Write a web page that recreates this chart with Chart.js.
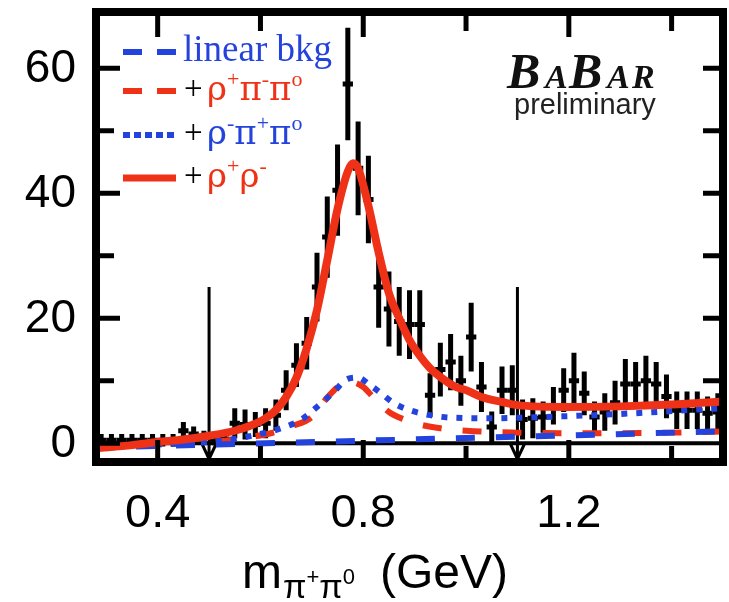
<!DOCTYPE html>
<html>
<head>
<meta charset="utf-8">
<script src="https://cdn.jsdelivr.net/npm/chart.js@4.4.1/dist/chart.umd.min.js"></script>
<style>
  html, body { margin: 0; padding: 0; background: #fff; }
</style>
</head>
<body>
<canvas id="massChart" width="729" height="602"></canvas>
<script>
/* ================================
   DATA
================================ */
const massBins = [
  0.29, 0.31, 0.33, 0.35, 0.37, 0.39, 0.41, 0.43, 0.45, 0.47, 0.49, 0.51, 0.53,
  0.55, 0.57, 0.59, 0.61, 0.63, 0.65, 0.67, 0.69, 0.71, 0.73, 0.75, 0.77, 0.79,
  0.81, 0.83, 0.85, 0.87, 0.89, 0.91, 0.93, 0.95, 0.97, 0.99, 1.01, 1.03, 1.05,
  1.07, 1.09, 1.11, 1.13, 1.15, 1.17, 1.19, 1.21, 1.23, 1.25, 1.27, 1.29, 1.31,
  1.33, 1.35, 1.37, 1.39, 1.41, 1.43, 1.45, 1.47, 1.49
];
const counts = [
  0.5, 0.5, 0.5, 0.5, 0.5, 0.5, 0.5, 0.5, 2, 1.5, 1, 0.7, 0.7,
  3.2, 3, 3, 3.2, 4.5, 8.5, 12.5, 16, 25, 33, 40.5, 57.5, 44,
  39, 25, 21.5, 19.5, 19, 19, 7.7, 11.8, 13, 10, 17, 9, 2.6,
  8.5, 8.5, 3.8, 4, 4.2, 6, 8.5, 10, 8, 4.2, 5, 6.5, 9.5,
  9.5, 10, 9.5, 7.5, 5.3, 5.3, 5.3, 4.8, 5
];
const errors = [
  1, 1, 1, 1, 1, 1, 1, 1, 1.4, 1.2, 1, 1, 1,
  2.4, 2.4, 2, 2.4, 2.5, 3.2, 3.5, 4.2, 5.5, 6.5, 7.3, 9, 7.5,
  7, 6.5, 6, 5.5, 5.5, 5.5, 3.5, 4.3, 4.5, 4, 5.5, 4, 2.5,
  3.8, 4, 3.2, 3.2, 2.5, 3, 3.5, 4.5, 3.5, 2.5, 3, 3.5, 4,
  3.5, 4, 3.5, 3.5, 3, 3, 3, 2.7, 3
];
const binHalf = 0.01;

// full fit: + rho+ rho-
const totalMass = [0.28, 0.35, 0.40, 0.45, 0.50, 0.55, 0.58, 0.61, 0.63, 0.65, 0.67, 0.69, 0.71, 0.73, 0.75, 0.77, 0.78, 0.79, 0.81, 0.83, 0.85, 0.87, 0.89, 0.91, 0.93, 0.95, 0.98, 1.00, 1.03, 1.07, 1.10, 1.20, 1.30, 1.40, 1.50];
const totalFit  = [-0.8, -0.3, 0.2, 0.6, 1.2, 2.0, 2.8, 4.0, 5.3, 7.4, 10.5, 15.2, 21.3, 29.3, 37.5, 43.5, 44.8, 44, 38, 30.5, 24, 20, 16.5, 14, 12, 10.6, 9, 8.5, 7.4, 6.6, 6.1, 5.8, 5.9, 6.2, 6.7];

// + rho- pi+ pi0
const rhoMinusMass = [0.28, 0.40, 0.50, 0.55, 0.60, 0.64, 0.68, 0.71, 0.74, 0.77, 0.79, 0.81, 0.83, 0.86, 0.89, 0.93, 0.97, 1.05, 1.15, 1.25, 1.35, 1.45, 1.50];
const rhoMinusFit  = [-0.6, -0.2, 0.2, 0.7, 1.5, 2.4, 3.8, 5.8, 8, 10.3, 10.5, 9.5, 8.3, 6.4, 5.3, 4.5, 4.1, 4.0, 4.2, 4.5, 4.9, 5.4, 5.6];

// + rho+ pi- pi0
const rhoPlusMass = [0.28, 0.45, 0.52, 0.58, 0.62, 0.66, 0.70, 0.73, 0.755, 0.775, 0.80, 0.82, 0.85, 0.88, 0.91, 0.95, 1.00, 1.10, 1.20, 1.30, 1.40, 1.50];
const rhoPlusFit  = [-0.6, -0.1, 0.3, 1.0, 1.6, 2.7, 4.2, 7.3, 9.3, 9.8, 9.0, 7.3, 5.0, 3.8, 3.0, 2.4, 2.0, 1.7, 1.6, 1.6, 1.7, 1.9];

// linear bkg
const bkgMass = [0.28, 1.50];
const bkgFit  = [-0.7, 1.9];

// selection cut arrows
const cutMass = [0.5, 1.1];
const cutTop = 25;

// axes
const xLabelTicks = [0.4, 0.8, 1.2];
const xMinorTicks = [0.6, 1.0, 1.4];
const yLabelTicks = [0, 20, 40, 60];
const yMinorTicks = [10, 30, 50];
const yRightTicks = [10, 20, 30, 40, 50, 60];

const RED = '#ef3217';
const BLUE = '#2443dc';

function pts(xs, ys) {
  return xs.map((x, i) => ({ x: x, y: ys[i] }));
}

/* ================================
   PLUGIN: error bars, zero line, arrows
================================ */
const underlay = {
  id: 'underlay',
  beforeDatasetsDraw(chart) {
    const { ctx, chartArea: a, scales: { x, y } } = chart;
    ctx.save();
    ctx.beginPath();
    ctx.rect(a.left, a.top, a.right - a.left, a.bottom - a.top);
    ctx.clip();
    ctx.strokeStyle = '#000';
    ctx.lineCap = 'butt';

    // zero line
    ctx.lineWidth = 4;
    const y0 = y.getPixelForValue(0);
    ctx.beginPath();
    ctx.moveTo(a.left, y0);
    ctx.lineTo(a.right, y0);
    ctx.stroke();

    // error bars
    ctx.lineWidth = 5;
    massBins.forEach((m, i) => {
      const px = x.getPixelForValue(m);
      const yc = y.getPixelForValue(counts[i]);
      ctx.beginPath();
      ctx.moveTo(px, y.getPixelForValue(counts[i] - errors[i]));
      ctx.lineTo(px, y.getPixelForValue(counts[i] + errors[i]));
      ctx.moveTo(x.getPixelForValue(m - binHalf), yc);
      ctx.lineTo(x.getPixelForValue(m + binHalf), yc);
      ctx.stroke();
    });

    // arrows
    ctx.lineWidth = 3;
    cutMass.forEach(m => {
      const px = x.getPixelForValue(m);
      const tip = a.bottom - 3;
      ctx.beginPath();
      ctx.moveTo(px, y.getPixelForValue(cutTop));
      ctx.lineTo(px, tip);
      ctx.moveTo(px - 7, tip - 15);
      ctx.lineTo(px, tip);
      ctx.lineTo(px + 7, tip - 15);
      ctx.stroke();
    });
    ctx.restore();
  }
};

/* ================================
   PLUGIN: frame, ticks, labels, legend, logo, title
================================ */
const SERIF = '"Liberation Serif", "Times New Roman", serif';
const GREEK = '"DejaVu Serif", "Liberation Serif", serif';
const SANS = '"Liberation Sans", Arial, sans-serif';

function runs(ctx, x, base, parts) {
  parts.forEach(p => {
    ctx.font = p.s + 'px ' + (p.g ? GREEK : SERIF);
    ctx.fillStyle = p.c;
    ctx.fillText(p.t, x, base - (p.up || 0));
    x += ctx.measureText(p.t).width + (p.gap || 0);
  });
  return x;
}

const overlay = {
  id: 'overlay',
  afterDraw(chart) {
    const { ctx, chartArea: a, scales: { x, y } } = chart;
    ctx.save();
    ctx.strokeStyle = '#000';

    // inner ticks
    ctx.lineWidth = 5;
    const tick = (x1, y1, x2, y2) => { ctx.beginPath(); ctx.moveTo(x1, y1); ctx.lineTo(x2, y2); ctx.stroke(); };
    xLabelTicks.forEach(v => { const p = x.getPixelForValue(v); tick(p, a.top, p, a.top + 25); tick(p, a.bottom, p, a.bottom - 22); });
    xMinorTicks.forEach(v => { const p = x.getPixelForValue(v); tick(p, a.top, p, a.top + 19); tick(p, a.bottom, p, a.bottom - 16); });
    yLabelTicks.forEach(v => { const p = y.getPixelForValue(v); tick(a.left, p, a.left + 24, p); });
    yMinorTicks.forEach(v => { const p = y.getPixelForValue(v); tick(a.left, p, a.left + 18, p); });
    yRightTicks.forEach(v => { const p = y.getPixelForValue(v); tick(a.right, p, a.right - 20, p); });

    // frame
    ctx.lineWidth = 8;
    ctx.strokeRect(a.left, a.top, a.right - a.left, a.bottom - a.top);

    // tick labels
    ctx.fillStyle = '#000';
    ctx.font = '46px ' + SANS;
    ctx.textBaseline = 'middle';
    ctx.textAlign = 'right';
    yLabelTicks.forEach(v => ctx.fillText(String(v), 76, y.getPixelForValue(v) + 1));
    ctx.font = '47px ' + SANS;
    ctx.textAlign = 'center';
    xLabelTicks.forEach(v => ctx.fillText(v.toFixed(1), x.getPixelForValue(v), 514));

    // legend samples
    const sx1 = 123, sx2 = 176;
    const sample = (yy, color, dash, w) => {
      ctx.strokeStyle = color; ctx.lineWidth = w; ctx.setLineDash(dash);
      ctx.beginPath(); ctx.moveTo(sx1, yy); ctx.lineTo(sx2, yy); ctx.stroke();
    };
    sample(52, BLUE, [19, 15], 6);
    sample(91, RED, [19, 15], 6);
    sample(135, BLUE, [7, 4], 6);
    sample(178, RED, [], 7);
    ctx.setLineDash([]);

    ctx.textBaseline = 'alphabetic';
    ctx.textAlign = 'left';
    runs(ctx, 183, 61, [{ t: 'linear bkg', c: BLUE, s: 37 }]);
    [[100, RED, ['+', '-', 'o']], [144, BLUE, ['-', '+', 'o']]].forEach(([b, c, sup]) => {
      runs(ctx, 184, b - 1, [{ t: '+', c: '#000', s: 33 }]);
      runs(ctx, 207, b, [
        { t: 'ρ', c: c, s: 34, g: 1 }, { t: sup[0], c: c, s: 22, up: 14 },
        { t: 'π', c: c, s: 34, g: 1 }, { t: sup[1], c: c, s: 22, up: 14 },
        { t: 'π', c: c, s: 34, g: 1 }, { t: sup[2], c: c, s: 22, up: 14 }
      ]);
    });
    runs(ctx, 184, 186, [{ t: '+', c: '#000', s: 33 }]);
    runs(ctx, 207, 187, [
      { t: 'ρ', c: RED, s: 34, g: 1 }, { t: '+', c: RED, s: 22, up: 14 },
      { t: 'ρ', c: RED, s: 34, g: 1 }, { t: '-', c: RED, s: 22, up: 14 }
    ]);

    // BABAR logo
    ctx.fillStyle = '#111';
    const logo = [['B', 50, 507], ['A', 34, 545], ['B', 50, 569], ['A', 34, 607], ['R', 34, 632]];
    logo.forEach(([t, s, lx]) => {
      ctx.font = 'italic bold ' + s + 'px ' + SERIF;
      ctx.fillText(t, lx, 88);
    });
    ctx.font = '29px ' + SANS;
    ctx.fillStyle = '#222';
    ctx.fillText('preliminary', 514, 114);

    // x axis title
    ctx.fillStyle = '#000';
    const sans = s => s + 'px ' + SANS;
    let tx = 242;
    ctx.font = sans(48); ctx.fillText('m', tx, 588); tx += ctx.measureText('m').width + 1;
    ctx.font = sans(34); ctx.fillText('π', tx, 598); tx += ctx.measureText('π').width;
    ctx.font = sans(22); ctx.fillText('+', tx, 584); tx += ctx.measureText('+').width;
    ctx.font = sans(34); ctx.fillText('π', tx, 598); tx += ctx.measureText('π').width;
    ctx.font = sans(22); ctx.fillText('0', tx, 584);
    ctx.font = sans(48); ctx.fillText('(GeV)', 380, 588);
    ctx.restore();
  }
};

/* ================================
   CHART
================================ */
new Chart(document.getElementById('massChart'), {
  type: 'line',
  data: {
    datasets: [
      { label: 'data', type: 'scatter', data: pts(massBins, counts), pointRadius: 0, showLine: false, order: 9 },
      { label: '+ ρ+ρ-', data: pts(totalMass, totalFit), borderColor: RED, borderWidth: 8, pointRadius: 0, cubicInterpolationMode: 'monotone', order: 0 },
      { label: '+ ρ-π+π0', data: pts(rhoMinusMass, rhoMinusFit), borderColor: BLUE, borderWidth: 6, borderDash: [6, 9], pointRadius: 0, cubicInterpolationMode: 'monotone', order: 1 },
      { label: 'linear bkg', data: pts(bkgMass, bkgFit), borderColor: BLUE, borderWidth: 6, borderDash: [19, 21], pointRadius: 0, order: 2 },
      { label: '+ ρ+π-π0', data: pts(rhoPlusMass, rhoPlusFit), borderColor: RED, borderWidth: 6, borderDash: [19, 21], pointRadius: 0, cubicInterpolationMode: 'monotone', order: 3 }
    ]
  },
  options: {
    responsive: false,
    animation: false,
    layout: { padding: { top: 12, right: 6, left: 0, bottom: 0 } },
    plugins: { legend: { display: false }, tooltip: { enabled: false } },
    scales: {
      x: {
        type: 'linear', min: 0.28, max: 1.5,
        grid: { display: false, drawTicks: false },
        border: { display: false },
        ticks: { display: false },
        afterFit: s => { s.height = 140; }
      },
      y: {
        type: 'linear', min: -3, max: 69,
        grid: { display: false, drawTicks: false },
        border: { display: false },
        ticks: { display: false },
        afterFit: s => { s.width = 96; }
      }
    }
  },
  plugins: [underlay, overlay]
});
</script>
</body>
</html>
